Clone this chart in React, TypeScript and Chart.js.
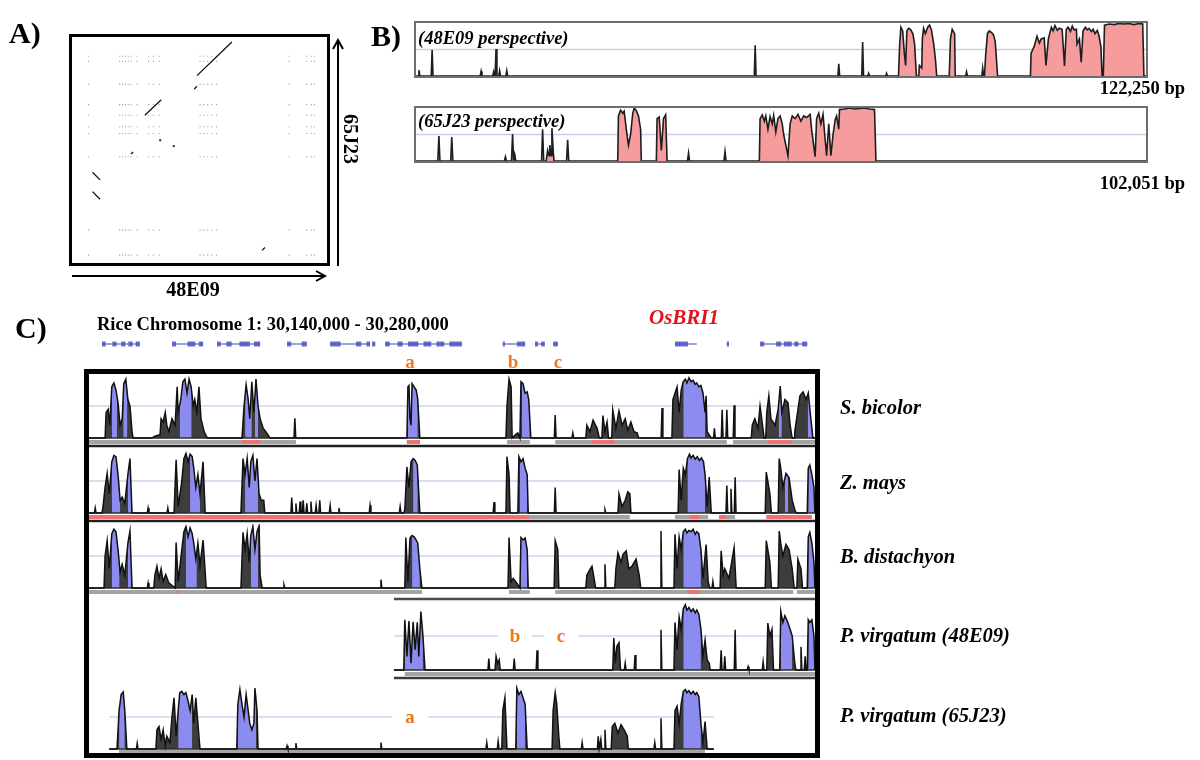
import React, { useEffect, useRef } from "react";
import { Chart, registerables } from "chart.js";

Chart.register(...registerables);

type Pt = [number, number];
type Range = [number, number];

// ================= Panel A : dot plot (x = 48E09 kb, y = 65J23 kb) =================
const dotplotXMaxKb = 122.25;
const dotplotYMaxKb = 102.05;
const dotRowsKb = [94.1, 91.8, 81.2, 71.9, 67.0, 61.7, 58.6, 47.9, 14.2, 2.7];
const dotColsKb = [7.1, 22.2, 23.6, 25.0, 26.4, 27.8, 30.7, 36.3, 38.7, 41.5, 61.4, 63.2, 65.1, 67.0, 69.4, 104.8, 113.3, 115.6, 117.1];
const dotSegments: Pt[][] = [
  [[59.9, 85.2], [76.9, 100.7]],
  [[58.5, 79.0], [59.9, 80.3]],
  [[34.5, 67.0], [42.5, 74.1]],
  [[27.8, 49.2], [28.8, 50.1]],
  [[9.0, 40.8], [12.7, 37.3]],
  [[9.0, 31.9], [12.7, 28.4]],
  [[91.6, 4.9], [93.0, 6.2]],
];
const dotSingles: Pt[] = [[42.0, 55.5], [48.6, 52.8]];

// ================= Panel B : conservation between BACs =================
const b48LengthKb = 122.25;
const b65LengthKb = 102.051;
const b48Blocks: Pt[][] = [
  [[80.8, 0], [81.0, 60], [81.2, 92], [81.5, 85], [81.8, 40], [82.0, 20], [82.2, 85], [82.5, 90], [82.8, 88], [83.2, 80], [83.5, 60], [83.8, 0]],
  [[84.2, 0], [84.3, 20], [84.7, 15], [84.8, 70], [85.0, 90], [85.3, 80], [85.7, 92], [86.0, 96], [86.3, 88], [86.7, 60], [87.0, 30], [87.2, 0]],
  [[89.3, 0], [89.5, 70], [89.8, 88], [90.2, 80], [90.3, 0]],
  [[95.2, 0], [95.4, 40], [95.7, 80], [96.0, 85], [96.4, 82], [96.7, 78], [97.0, 65], [97.4, 0]],
  [[102.9, 0], [103.0, 43], [103.5, 55], [104.0, 75], [104.4, 62], [104.7, 70], [105.2, 72], [105.5, 20], [105.9, 70], [106.4, 92], [106.7, 85], [107.0, 95], [107.4, 86], [107.7, 90], [108.2, 88], [108.6, 19], [108.9, 88], [109.2, 92], [109.6, 84], [109.9, 94], [110.2, 87], [110.6, 88], [110.7, 60], [111.1, 70], [111.4, 26], [111.7, 85], [112.1, 92], [112.4, 87], [112.7, 90], [113.1, 84], [113.4, 88], [113.7, 80], [114.1, 86], [114.4, 75], [114.7, 55], [114.9, 0]],
  [[115.1, 0], [115.3, 96], [116.1, 98], [116.9, 97], [117.7, 99], [118.6, 98], [119.4, 99], [120.2, 97], [121.1, 99], [121.7, 98], [121.9, 0]],
];
const b48Spikes: Pt[] = [[0.5, 11], [2.7, 49], [10.9, 9], [13.0, 8], [13.4, 51], [14.0, 10], [15.2, 10], [56.8, 58], [70.8, 23], [74.8, 64], [75.8, 5], [78.8, 5], [92.2, 8], [94.9, 15]];
const b65Blocks: Pt[][] = [
  [[18.2, 0], [18.4, 20], [18.6, 10], [18.7, 30], [18.9, 10], [19.0, 62], [19.2, 15], [19.3, 0]],
  [[28.2, 0], [28.3, 85], [28.6, 96], [28.9, 90], [29.1, 94], [29.4, 60], [29.7, 30], [30.0, 50], [30.3, 90], [30.5, 100], [30.8, 95], [31.1, 85], [31.4, 60], [31.5, 0]],
  [[33.6, 0], [33.7, 80], [34.0, 83], [34.3, 20], [34.6, 80], [34.9, 87], [35.1, 0]],
  [[48.0, 0], [48.1, 80], [48.4, 87], [48.7, 75], [48.9, 85], [49.2, 60], [49.5, 84], [49.8, 70], [50.0, 86], [50.3, 55], [50.6, 80], [50.9, 85], [51.2, 70], [51.4, 50], [52.0, 10], [52.3, 70], [52.6, 85], [53.0, 80], [53.4, 88], [53.8, 75], [54.2, 85], [54.6, 82], [55.1, 88], [55.3, 60], [55.8, 8], [56.0, 80], [56.3, 90], [56.6, 70], [56.9, 88], [57.2, 40], [57.4, 10], [57.7, 70], [58.0, 10], [58.3, 50], [58.6, 78], [58.8, 85], [59.1, 60], [59.2, 97], [59.9, 98], [60.6, 100], [61.3, 98], [62.0, 99], [62.7, 100], [63.4, 98], [64.1, 97], [64.3, 0]],
];
const b65Spikes: Pt[] = [[3.2, 47], [5.0, 45], [12.5, 8], [13.5, 51], [13.8, 12], [17.7, 60], [21.2, 40], [38.1, 15], [43.2, 18]];

// ================= Panel C : rice region 30,140,000 - 30,280,000 (kb offsets) =================
const riceSpanKb: Range = [0, 140];

const geneSpansKb: Range[] = [[2.5, 9.8], [16.0, 22.0], [24.7, 33.0], [38.2, 42.0], [46.5, 54.2], [54.6, 55.2], [57.1, 71.9], [79.8, 84.1], [86.0, 87.9], [89.5, 90.4], [113.0, 117.2], [123.0, 123.4], [129.4, 138.5]];
const geneExonsKb: Range[] = [[2.5, 3.2], [4.5, 5.3], [6.2, 7.0], [7.6, 8.4], [9.0, 9.8], [16.0, 16.8], [19.0, 20.5], [21.2, 22.0], [24.7, 25.4], [26.5, 27.5], [29.0, 31.0], [31.8, 33.0], [38.2, 39.0], [41.0, 42.0], [46.5, 48.5], [51.5, 52.5], [53.5, 54.2], [54.6, 55.2], [57.1, 58.0], [59.5, 60.5], [61.5, 63.5], [64.5, 66.0], [67.0, 68.5], [69.5, 71.9], [79.8, 80.2], [82.5, 84.1], [86.0, 86.6], [87.2, 87.9], [89.5, 90.4], [113.0, 115.5], [123.0, 123.4], [129.4, 130.2], [132.5, 133.5], [134.0, 135.5], [136.0, 136.8], [137.5, 138.5]];

// --- S. bicolor
const sbBlocks: Pt[][] = [
  [[3.1, 0], [3.3, 40], [3.7, 45], [4.0, 20], [4.4, 80], [4.8, 86], [5.2, 75], [5.6, 55], [6.0, 20], [6.4, 30], [6.7, 85], [7.1, 92], [7.5, 60], [7.9, 50], [8.3, 10], [8.5, 0]],
  [[12.1, 0], [12.7, 3], [13.7, 5], [13.9, 30], [14.3, 25], [14.7, 40], [15.0, 20], [15.4, 10], [16.0, 30], [16.6, 20], [17.0, 80], [17.2, 40], [17.7, 60], [18.1, 88], [18.5, 92], [18.9, 70], [19.3, 92], [19.7, 80], [20.1, 50], [20.4, 60], [20.8, 40], [21.2, 80], [21.6, 30], [22.2, 10], [22.8, 0]],
  [[29.5, 0], [29.9, 50], [30.3, 83], [30.7, 60], [31.0, 30], [31.4, 88], [31.8, 40], [32.2, 92], [32.6, 50], [33.0, 30], [33.6, 15], [34.1, 10], [34.9, 0]],
  [[61.3, 0], [61.5, 80], [61.7, 82], [61.9, 30], [62.1, 20], [62.3, 85], [62.7, 80], [63.1, 75], [63.4, 60], [63.8, 0]],
  [[80.4, 0], [80.6, 50], [81.0, 92], [81.4, 80], [81.6, 0], [82.2, 5], [82.7, 8], [83.1, 0], [83.3, 88], [83.7, 85], [84.1, 70], [84.5, 72], [84.8, 60], [85.2, 0]],
  [[95.8, 0], [96.0, 20], [96.6, 10], [97.2, 28], [98.0, 15], [98.4, 0]],
  [[98.9, 0], [99.1, 35], [99.5, 10], [99.9, 25], [100.2, 0]],
  [[100.8, 0], [101.0, 44], [101.6, 15], [102.2, 42], [102.8, 20], [103.4, 30], [103.9, 12], [104.5, 25], [105.1, 10], [105.7, 8], [106.0, 0]],
  [[112.4, 0], [112.6, 60], [113.0, 70], [113.4, 80], [113.8, 40], [114.2, 75], [114.6, 88], [115.0, 92], [115.3, 86], [115.7, 94], [116.1, 88], [116.5, 90], [116.9, 84], [117.2, 86], [117.6, 80], [118.0, 82], [118.4, 70], [118.8, 40], [119.0, 66], [119.2, 10], [119.6, 5], [120.0, 0]],
  [[127.7, 0], [127.9, 20], [128.4, 30], [129.0, 15], [129.4, 50], [129.8, 25], [130.2, 0]],
  [[130.5, 0], [130.7, 40], [131.1, 66], [131.5, 30], [132.3, 20], [132.9, 45], [133.3, 81], [133.6, 40], [134.2, 60], [134.8, 55], [135.2, 20], [135.6, 0]],
  [[136.0, 0], [136.1, 10], [137.1, 66], [137.7, 72], [138.3, 60], [138.7, 70], [139.2, 30], [139.6, 0]],
];
const sbSpikes: Pt[] = [[39.7, 31], [89.9, 36], [93.3, 8], [110.5, 47], [120.6, 15], [122.1, 44], [123.0, 44], [124.4, 51]];
const sbBlue: Range[] = [[4.4, 5.4], [6.6, 7.4], [17.5, 19.8], [30.1, 31.4], [32.0, 32.6], [61.5, 63.4], [83.5, 85.0], [114.6, 118.8], [133.0, 133.6], [138.6, 139.4]];
const sbGray: Range[] = [[0, 39.9], [61.3, 63.8], [80.6, 85.0], [89.9, 123.0], [124.2, 140]];
const sbRed: Range[] = [[29.5, 33.0], [61.3, 63.8], [97.0, 101.4], [130.9, 135.6]];

// --- Z. mays
const zmBlocks: Pt[][] = [
  [[2.5, 0], [2.7, 10], [3.1, 40], [3.5, 62], [3.9, 30], [4.4, 80], [4.8, 90], [5.2, 88], [5.6, 60], [6.0, 20], [6.4, 25], [6.9, 15], [7.5, 60], [7.9, 85], [8.3, 0]],
  [[16.4, 0], [16.8, 83], [17.2, 10], [17.9, 50], [18.3, 85], [18.7, 93], [19.1, 80], [19.5, 92], [19.9, 88], [20.2, 70], [20.6, 40], [21.0, 60], [21.4, 30], [22.0, 80], [22.4, 0]],
  [[29.3, 0], [29.7, 85], [30.1, 60], [30.5, 85], [30.9, 40], [31.2, 80], [31.6, 90], [32.0, 50], [32.4, 85], [32.8, 30], [33.2, 20], [33.7, 20], [33.9, 0]],
  [[60.7, 0], [60.9, 5], [61.3, 72], [61.7, 40], [62.1, 80], [62.5, 85], [62.9, 82], [63.3, 75], [63.6, 30], [63.8, 0]],
  [[80.4, 0], [80.6, 88], [81.0, 60], [81.2, 0]],
  [[82.7, 0], [82.9, 88], [83.3, 80], [83.7, 85], [84.1, 70], [84.5, 60], [84.7, 0]],
  [[102.0, 0], [102.2, 30], [102.8, 10], [103.4, 20], [103.9, 33], [104.3, 30], [104.5, 0]],
  [[113.6, 0], [113.8, 68], [114.2, 20], [114.6, 70], [115.0, 60], [115.4, 85], [115.8, 92], [116.1, 86], [116.5, 90], [116.9, 84], [117.3, 88], [117.7, 82], [118.1, 86], [118.5, 80], [118.8, 60], [119.2, 10], [119.6, 56], [120.0, 0]],
  [[130.4, 0], [130.6, 64], [130.9, 50], [131.3, 30], [131.6, 0]],
  [[132.9, 0], [133.1, 85], [133.4, 70], [133.8, 40], [134.4, 62], [135.0, 55], [135.6, 20], [136.1, 5], [136.4, 0]],
  [[138.5, 0], [138.7, 70], [139.0, 75], [139.4, 60], [139.8, 40], [140, 0]],
];
const zmSpikes: Pt[] = [[1.2, 8], [11.4, 8], [15.2, 8], [39.1, 24], [39.9, 15], [40.7, 18], [41.3, 20], [42.0, 15], [42.8, 18], [43.8, 12], [44.5, 20], [46.5, 12], [48.2, 8], [54.2, 12], [60.0, 10], [78.1, 17], [89.9, 40], [99.5, 5], [123.0, 43], [123.8, 38], [124.6, 56]];
const zmBlue: Range[] = [[4.4, 6.0], [7.5, 8.1], [19.5, 21.4], [30.1, 32.6], [62.5, 63.4], [83.1, 84.5], [115.4, 118.8], [134.2, 134.8], [138.7, 139.8]];
const zmGray: Range[] = [[85.0, 104.3], [113.0, 119.4], [121.5, 124.6]];
const zmRed: Range[] = [[0, 85.0], [115.9, 117.6], [121.5, 122.9], [130.6, 139.4]];

// --- B. distachyon
const bdBlocks: Pt[][] = [
  [[2.9, 0], [3.1, 50], [3.5, 74], [3.9, 30], [4.4, 85], [4.8, 92], [5.2, 88], [5.6, 60], [6.0, 25], [6.4, 37], [6.9, 20], [7.5, 70], [7.9, 89], [8.3, 0]],
  [[12.5, 0], [12.7, 20], [13.1, 34], [13.5, 15], [13.9, 30], [14.3, 10], [14.8, 21], [15.4, 8], [16.6, 0], [16.8, 71], [17.2, 10], [17.9, 60], [18.3, 88], [18.7, 96], [19.1, 80], [19.5, 94], [19.9, 85], [20.2, 70], [20.6, 45], [21.0, 70], [21.4, 35], [22.0, 75], [22.6, 0]],
  [[29.3, 0], [29.7, 87], [30.1, 60], [30.5, 85], [30.9, 40], [31.2, 82], [31.6, 96], [32.0, 60], [32.4, 88], [32.8, 97], [33.0, 20], [33.4, 0]],
  [[60.9, 0], [61.1, 79], [61.5, 10], [61.9, 78], [62.3, 82], [62.7, 80], [63.1, 75], [63.4, 70], [63.8, 30], [64.2, 0]],
  [[80.8, 0], [81.0, 79], [81.4, 10], [81.8, 15], [82.3, 10], [83.1, 0], [83.3, 79], [83.7, 75], [84.1, 78], [84.5, 60], [84.7, 0]],
  [[89.7, 0], [89.9, 74], [90.4, 60], [90.6, 0]],
  [[95.8, 0], [96.0, 20], [96.6, 29], [97.0, 34], [97.4, 15], [97.7, 0]],
  [[101.4, 0], [101.6, 30], [102.0, 55], [102.6, 40], [103.0, 53], [103.6, 58], [104.1, 30], [104.7, 34], [105.5, 45], [106.1, 20], [106.4, 0]],
  [[112.8, 0], [113.0, 84], [113.4, 30], [113.8, 80], [114.2, 60], [114.6, 88], [115.0, 92], [115.3, 86], [115.7, 90], [116.1, 88], [116.5, 92], [116.9, 84], [117.2, 88], [117.6, 85], [118.0, 60], [118.4, 15], [119.0, 68], [119.4, 10], [119.7, 0]],
  [[121.7, 0], [121.9, 58], [122.3, 20], [122.6, 30], [123.4, 15], [124.4, 63], [124.8, 0]],
  [[130.4, 0], [130.6, 74], [130.9, 60], [131.3, 40], [131.6, 0]],
  [[132.9, 0], [133.1, 89], [133.4, 70], [133.8, 50], [134.4, 68], [135.0, 60], [135.6, 30], [136.0, 0]],
  [[136.5, 0], [136.7, 45], [137.3, 30], [137.6, 0]],
  [[138.5, 0], [138.7, 80], [139.0, 87], [139.4, 70], [139.8, 40], [140, 0]],
];
const bdSpikes: Pt[] = [[11.4, 8], [37.6, 5], [56.3, 13], [99.5, 37], [110.3, 89], [120.3, 10]];
const bdBlue: Range[] = [[4.4, 5.9], [7.5, 8.1], [18.7, 20.8], [31.2, 32.6], [62.3, 63.8], [83.3, 84.5], [114.6, 118.0], [138.7, 139.8]];
const bdGray: Range[] = [[0, 64.2], [81.0, 85.0], [89.9, 135.8], [136.5, 140]];
const bdRed: Range[] = [[17.0, 17.5], [115.4, 117.8]];

// --- P. virgatum (48E09)
const pv48SpanKb: Range = [58.8, 140];
const pv48Blocks: Pt[][] = [
  [[60.7, 0], [60.9, 74], [61.3, 20], [61.7, 72], [62.1, 10], [62.5, 71], [62.9, 30], [63.3, 70], [63.6, 20], [64.0, 86], [64.4, 50], [64.8, 0]],
  [[78.3, 0], [78.5, 20], [78.8, 10], [79.1, 15], [79.3, 0]],
  [[101.0, 0], [101.2, 47], [101.5, 10], [101.8, 35], [102.2, 40], [102.5, 0]],
  [[112.8, 0], [113.0, 70], [113.4, 30], [113.8, 78], [114.2, 60], [114.6, 90], [115.0, 96], [115.3, 88], [115.7, 92], [116.1, 86], [116.5, 90], [116.9, 84], [117.2, 88], [117.6, 82], [118.0, 60], [118.4, 20], [118.8, 44], [119.2, 15], [119.6, 10], [119.8, 0]],
  [[130.7, 0], [130.9, 69], [131.3, 50], [131.7, 60], [132.0, 0]],
  [[133.2, 0], [133.4, 86], [133.8, 70], [134.2, 80], [134.8, 69], [135.2, 60], [135.6, 50], [136.1, 10], [136.3, 0]],
  [[138.5, 0], [138.7, 74], [139.0, 70], [139.4, 74], [139.8, 50], [140, 0]],
];
const pv48Spikes: Pt[] = [[77.1, 17], [82.0, 17], [86.4, 29], [103.4, 10], [105.3, 22], [110.3, 59], [121.9, 29], [122.6, 20], [124.6, 59], [127.1, 5], [130.0, 12], [137.3, 34], [138.1, 20]];
const pv48Blue: Range[] = [[60.9, 64.4], [114.6, 118.0], [133.4, 135.6], [138.7, 139.8]];
const pv48Gray: Range[] = [[60.9, 140]];
const pv48Red: Range[] = [];

// --- P. virgatum (65J23)
const pv65SpanKb: Range = [3.9, 120.5];
const pv65Blocks: Pt[][] = [
  [[5.4, 0], [5.8, 60], [6.2, 85], [6.6, 89], [6.9, 60], [7.3, 0]],
  [[12.9, 0], [13.1, 30], [13.5, 35], [13.9, 15], [14.3, 30], [14.7, 5], [15.0, 20], [15.6, 10], [16.0, 50], [16.4, 80], [16.8, 20], [17.2, 60], [17.5, 88], [17.9, 90], [18.3, 85], [18.7, 88], [19.1, 75], [19.5, 60], [19.9, 85], [20.2, 40], [20.6, 80], [21.0, 40], [21.4, 0]],
  [[28.5, 0], [28.7, 70], [29.1, 93], [29.5, 70], [29.9, 50], [30.3, 85], [30.7, 60], [31.0, 40], [31.4, 30], [31.8, 40], [32.0, 95], [32.4, 60], [32.6, 0]],
  [[79.6, 0], [79.8, 60], [80.2, 80], [80.6, 0]],
  [[82.3, 0], [82.5, 95], [82.9, 85], [83.3, 90], [83.7, 80], [84.1, 70], [84.5, 0]],
  [[89.3, 0], [89.5, 60], [89.9, 88], [90.2, 70], [90.6, 20], [90.8, 0]],
  [[100.7, 0], [100.9, 35], [101.4, 40], [102.0, 25], [102.6, 38], [103.2, 30], [103.8, 20], [104.0, 0]],
  [[112.8, 0], [113.0, 60], [113.4, 67], [113.8, 40], [114.2, 70], [114.6, 90], [115.0, 93], [115.3, 88], [115.7, 91], [116.1, 86], [116.5, 90], [116.9, 85], [117.2, 88], [117.6, 82], [118.0, 40], [118.4, 10], [118.8, 43], [119.2, 0]],
];
const pv65Spikes: Pt[] = [[9.3, 9], [38.2, 5], [39.9, 9], [56.3, 10], [76.7, 10], [78.9, 12], [95.1, 10], [98.2, 20], [98.7, 15], [99.5, 30], [109.1, 10], [110.3, 48]];
const pv65Blue: Range[] = [[5.8, 6.9], [17.2, 19.9], [28.7, 32.2], [82.5, 84.1], [114.6, 118.0]];
const pv65Gray: Range[] = [[5.8, 118.8]];
const pv65Red: Range[] = [];

const gridLevel = 50;

// ================= helpers =================
type XY = { x: number; y: number | null };

function buildProfile(blocks: Pt[][], spikes: Pt[], span: Range, hw: number): XY[] {
  const pts: Pt[] = [[span[0], 0], [span[1], 0]];
  blocks.forEach((b) => pts.push(...b));
  spikes.forEach(([x, v]) => pts.push([x - hw, 0], [x, v], [x + hw, 0]));
  pts.sort((a, b) => a[0] - b[0]);
  return pts.map(([x, y]) => ({ x, y }));
}

function interp(p: XY[], x: number): number {
  for (let i = 0; i < p.length - 1; i++) {
    const a = p[i], b = p[i + 1];
    if (a.x <= x && x <= b.x) {
      if (b.x === a.x) return a.y as number;
      return (a.y as number) + (((b.y as number) - (a.y as number)) * (x - a.x)) / (b.x - a.x);
    }
  }
  return 0;
}

function clipTo(p: XY[], r: Range): XY[] {
  const out: XY[] = [{ x: r[0], y: interp(p, r[0]) }];
  p.forEach((q) => {
    if (q.x > r[0] && q.x < r[1]) out.push(q);
  });
  out.push({ x: r[1], y: interp(p, r[1]) });
  return out;
}

function rangesAt(ranges: Range[], y: number): XY[] {
  const out: XY[] = [];
  ranges.forEach(([a, b]) => {
    out.push({ x: a, y }, { x: b, y }, { x: b, y: null });
  });
  return out;
}

function line(data: XY[], color: string, width: number, order: number, extra: any = {}) {
  return {
    type: "line",
    data,
    borderColor: color,
    borderWidth: width,
    pointRadius: 0,
    fill: false,
    spanGaps: false,
    tension: 0,
    clip: false,
    order,
    ...extra,
  };
}

function baseOptions(xmin: number, xmax: number, ymin: number, ymax: number) {
  return {
    responsive: false,
    maintainAspectRatio: false,
    animation: false,
    devicePixelRatio: 1,
    events: [],
    layout: { padding: 0 },
    plugins: { legend: { display: false }, tooltip: { enabled: false } },
    scales: {
      x: { type: "linear", min: xmin, max: xmax, display: false },
      y: { type: "linear", min: ymin, max: ymax, display: false },
    },
    elements: { point: { radius: 0 }, line: { tension: 0 } },
  };
}

const BLUE = "#8c8cf0";
const GRID = "#d2d2ec";
const CLEAR = "rgba(0,0,0,0)";

interface TrackSpec {
  blocks: Pt[][];
  spikes: Pt[];
  span: Range;
  blue: Range[];
  gray: Range[];
  red: Range[];
  ymin: number;
  ymax: number;
  barY: number;
  sepY?: number;
  topY?: number;
  bottomY?: number;
}

function trackConfig(s: TrackSpec) {
  const prof = buildProfile(s.blocks, s.spikes, s.span, 0.17);
  const ds: any[] = [];
  ds.push(line([{ x: s.span[0], y: gridLevel }, { x: s.span[1], y: gridLevel }], GRID, 1.6, 10));
  ds.push(line(prof, CLEAR, 1, 6, { fill: "origin", backgroundColor: "rgba(18,18,18,0.82)" }));
  s.blue.forEach((r) => ds.push(line(clipTo(prof, r), CLEAR, 1, 5, { fill: "origin", backgroundColor: BLUE })));
  ds.push(line(rangesAt(s.gray, s.barY), "#a4a4a4", 4, 4));
  ds.push(line(rangesAt(s.red, s.barY), "#ef7272", 4, 3));
  ds.push(line([{ x: s.span[0], y: 0 }, { x: s.span[1], y: 0 }], "#2c2c2c", 1.6, 2));
  if (s.sepY !== undefined) ds.push(line([{ x: riceSpanKb[0], y: s.sepY }, { x: riceSpanKb[1], y: s.sepY }], "#222", 2.5, 2));
  if (s.topY !== undefined) ds.push(line([{ x: s.span[0], y: s.topY }, { x: s.span[1], y: s.topY }], "#4a4a4a", 2.5, 2));
  if (s.bottomY !== undefined) ds.push(line([{ x: s.span[0], y: s.bottomY }, { x: s.span[1], y: s.bottomY }], "#3a3a3a", 2.5, 2));
  ds.push(line(prof, "#111", 1.5, 0));
  return { type: "line", data: { datasets: ds }, options: baseOptions(riceSpanKb[0], riceSpanKb[1], s.ymin, s.ymax) };
}

function bacConfig(blocks: Pt[][], spikes: Pt[], len: number) {
  const prof = buildProfile(blocks, spikes, [0, len], 0.15);
  return {
    type: "line",
    data: {
      datasets: [
        line([{ x: 0, y: gridLevel }, { x: len, y: gridLevel }], "#cdcde6", 1.3, 10),
        line(prof, "#1e1e1e", 1.6, 0, { fill: "origin", backgroundColor: "#f79c9c" }),
      ],
    },
    options: baseOptions(0, len, 0, 100),
  };
}

function dotplotConfig() {
  const dots: XY[] = [];
  dotRowsKb.forEach((y) => dotColsKb.forEach((x) => dots.push({ x, y })));
  const segs: XY[] = [];
  dotSegments.forEach((s) => {
    s.forEach(([x, y]) => segs.push({ x, y }));
    segs.push({ x: s[s.length - 1][0], y: null });
  });
  return {
    type: "scatter",
    data: {
      datasets: [
        line(segs, "#111", 1.3, 0, { showLine: true }),
        { type: "scatter", data: dotSingles.map(([x, y]) => ({ x, y })), pointRadius: 1.4, pointStyle: "rect", backgroundColor: "#222", borderWidth: 0, order: 1 },
        { type: "scatter", data: dots, pointRadius: 0.8, pointStyle: "rect", backgroundColor: "rgba(90,90,90,0.55)", borderWidth: 0, order: 2 },
      ],
    },
    options: baseOptions(0, dotplotXMaxKb, 0, dotplotYMaxKb),
  };
}

function geneConfig() {
  return {
    type: "line",
    data: {
      datasets: [
        line(rangesAt(geneExonsKb, 0.5), "rgba(78,86,190,0.85)", 5, 0),
        line(rangesAt(geneSpansKb, 0.5), "rgba(90,98,200,0.8)", 1.6, 1),
      ],
    },
    options: baseOptions(riceSpanKb[0], riceSpanKb[1], 0, 1),
  };
}

// ================= components =================
function ChartCanvas({ left, top, width, height, make }: any) {
  const ref = useRef<HTMLCanvasElement>(null);
  useEffect(() => {
    const chart = new Chart(ref.current as HTMLCanvasElement, make());
    return () => chart.destroy();
  }, []);
  return <canvas ref={ref} width={width} height={height} style={{ position: "absolute", left, top, width, height }} />;
}

function T({ x, y, s, children, b = true, i = false, color = "#000", align = "left", bg, w }: any) {
  const style: any = {
    position: "absolute",
    top: y - s * 0.6,
    fontSize: s,
    lineHeight: `${s * 1.2}px`,
    fontWeight: b ? "bold" : "normal",
    fontStyle: i ? "italic" : "normal",
    color,
    whiteSpace: "nowrap",
  };
  if (align === "left") style.left = x;
  else if (align === "right") style.right = 1200 - x;
  else {
    style.left = x;
    style.transform = "translateX(-50%)";
  }
  if (bg) {
    style.background = bg;
    style.width = w;
    style.textAlign = "center";
  }
  return <div style={style}>{children}</div>;
}

function Box({ l, t, w, h, bw, color = "#000" }: any) {
  return <div style={{ position: "absolute", left: l, top: t, width: w, height: h, border: `${bw}px solid ${color}`, boxSizing: "border-box" }} />;
}

export default function App() {
  const orange = "#f07a22";
  return (
    <div style={{ position: "absolute", left: 0, top: 0, width: 1200, height: 760, background: "#fff", overflow: "hidden", fontFamily: '"Liberation Serif", "Times New Roman", serif' }}>
      {/* Panel A */}
      <ChartCanvas left={70} top={35} width={259} height={230} make={dotplotConfig} />
      <Box l={69} t={34} w={261} h={232} bw={3} />
      <svg width={1200} height={760} style={{ position: "absolute", left: 0, top: 0 }}>
        <g stroke="#000" strokeWidth={2} fill="none">
          <line x1={72} y1={276} x2={325} y2={276} />
          <polyline points="316,271 325,276 316,281" />
          <line x1={338} y1={266} x2={338} y2={40} />
          <polyline points="333,49 338,40 343,49" />
        </g>
      </svg>
      <T x={9} y={33} s={30}>A)</T>
      <T x={193} y={289} s={20} align="center">48E09</T>
      <div style={{ position: "absolute", left: 351, top: 139, transform: "translate(-50%,-50%) rotate(90deg)", fontSize: 20, fontWeight: "bold", whiteSpace: "nowrap", lineHeight: "22px" }}>65J23</div>

      {/* Panel B */}
      <T x={371} y={36} s={30}>B)</T>
      <ChartCanvas left={416} top={23} width={730} height={53} make={() => bacConfig(b48Blocks, b48Spikes, b48LengthKb)} />
      <Box l={414} t={21} w={734} h={57} bw={2} color="#6e6e6e" />
      <T x={418} y={38} s={18.5} i>(48E09 perspective)</T>
      <T x={1185} y={88} s={18.5} align="right">122,250 bp</T>
      <ChartCanvas left={416} top={108} width={730} height={53} make={() => bacConfig(b65Blocks, b65Spikes, b65LengthKb)} />
      <Box l={414} t={106} w={734} h={57} bw={2} color="#6e6e6e" />
      <T x={418} y={121} s={18.5} i>(65J23 perspective)</T>
      <T x={1185} y={183} s={18.5} align="right">102,051 bp</T>

      {/* Panel C */}
      <T x={15} y={328} s={30}>C)</T>
      <T x={97} y={324} s={18.5}>Rice Chromosome 1: 30,140,000 - 30,280,000</T>
      <T x={684} y={318} s={21} i color="#e2121c" align="center">OsBRI1</T>
      <ChartCanvas left={89} top={339} width={726} height={10} make={geneConfig} />
      <T x={410} y={362} s={19} color={orange} align="center">a</T>
      <T x={513} y={362} s={19} color={orange} align="center">b</T>
      <T x={558} y={362} s={19} color={orange} align="center">c</T>

      <ChartCanvas left={89} top={374} width={726} height={74} make={() => trackConfig({ blocks: sbBlocks, spikes: sbSpikes, span: riceSpanKb, blue: sbBlue, gray: sbGray, red: sbRed, ymin: -15.6, ymax: 100, barY: -6.25, sepY: -12.5 })} />
      <ChartCanvas left={89} top={449} width={726} height={74} make={() => trackConfig({ blocks: zmBlocks, spikes: zmSpikes, span: riceSpanKb, blue: zmBlue, gray: zmGray, red: zmRed, ymin: -15.6, ymax: 100, barY: -6.25, sepY: -12.5 })} />
      <ChartCanvas left={89} top={524} width={726} height={74} make={() => trackConfig({ blocks: bdBlocks, spikes: bdSpikes, span: riceSpanKb, blue: bdBlue, gray: bdGray, red: bdRed, ymin: -15.6, ymax: 100, barY: -6.25 })} />
      <ChartCanvas left={89} top={596} width={726} height={86} make={() => trackConfig({ blocks: pv48Blocks, spikes: pv48Spikes, span: pv48SpanKb, blue: pv48Blue, gray: pv48Gray, red: pv48Red, ymin: -17.6, ymax: 108.8, barY: -5.9, topY: 104.4, bottomY: -11.8 })} />
      <ChartCanvas left={89} top={683} width={726} height={70} make={() => trackConfig({ blocks: pv65Blocks, spikes: pv65Spikes, span: pv65SpanKb, blue: pv65Blue, gray: pv65Gray, red: pv65Red, ymin: -6.25, ymax: 103.1, barY: -4.7 })} />

      <T x={515} y={636} s={19} color={orange} align="center" bg="#fff" w={34}>b</T>
      <T x={561} y={636} s={19} color={orange} align="center" bg="#fff" w={34}>c</T>
      <T x={410} y={717} s={19} color={orange} align="center" bg="#fff" w={35}>a</T>

      <Box l={84} t={369} w={736} h={389} bw={5} />

      <T x={840} y={407} s={20.5} i>S. bicolor</T>
      <T x={840} y={482} s={20.5} i>Z. mays</T>
      <T x={840} y={556} s={20.5} i>B. distachyon</T>
      <T x={840} y={635} s={20.5} i>P. virgatum (48E09)</T>
      <T x={840} y={715} s={20.5} i>P. virgatum (65J23)</T>
    </div>
  );
}
